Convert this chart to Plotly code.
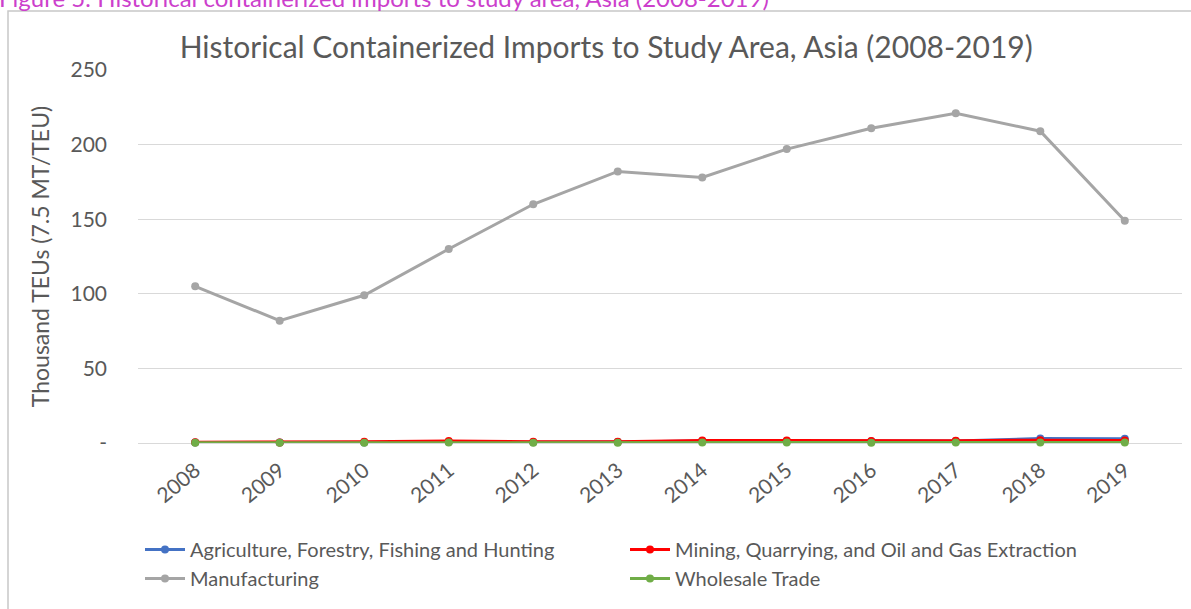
import plotly.graph_objects as go

years = ["2008", "2009", "2010", "2011", "2012", "2013",
         "2014", "2015", "2016", "2017", "2018", "2019"]

agriculture = [0.3, 0.3, 0.4, 0.6, 0.5, 0.6, 1.3, 1.4, 1.2, 1.3, 3.0, 2.8]
mining = [0.5, 0.4, 0.8, 1.3, 0.8, 0.9, 1.6, 1.7, 1.4, 1.5, 1.9, 1.7]
manufacturing = [105, 82, 99, 130, 160, 182, 178, 197, 211, 221, 209, 149]
wholesale = [0.2, 0.2, 0.2, 0.3, 0.2, 0.2, 0.3, 0.3, 0.2, 0.3, 0.4, 0.3]

y_ticks = [0, 50, 100, 150, 200, 250]
y_tick_text = ["-", "50", "100", "150", "200", "250"]

FONT = "Lato"
TEXT = "#595959"

W, H = 1191, 609
ML, MR, MT, MB = 138, 9, 70, 166
PW, PH = W - ML - MR, H - MT - MB


def px_x(p):
    return (p - ML) / PW


def px_y(p):
    return (H - MB - p) / PH


# (name, values, colour, legend column)
series = [
    ("Agriculture, Forestry, Fishing and Hunting", agriculture, "#4472C4", "legend"),
    ("Mining, Quarrying, and Oil and Gas Extraction", mining, "#FF0000", "legend2"),
    ("Manufacturing", manufacturing, "#A5A5A5", "legend"),
    ("Wholesale Trade", wholesale, "#70AD47", "legend2"),
]

fig = go.Figure()
for name, vals, color, leg in series:
    fig.add_trace(go.Scatter(
        x=years, y=vals, name=name, mode="lines+markers",
        line=dict(color=color, width=3),
        marker=dict(color=color, size=8),
        cliponaxis=False, legend=leg, legendgroup=name,
    ))

legend_style = dict(
    orientation="v", yanchor="top", xanchor="left",
    font=dict(size=20, color=TEXT, family=FONT),
    tracegroupgap=0, itemwidth=40, bgcolor="rgba(0,0,0,0)",
)

fig.update_layout(
    width=W, height=H,
    margin=dict(l=ML, r=MR, t=MT, b=MB, autoexpand=False),
    paper_bgcolor="white", plot_bgcolor="white",
    font=dict(family=FONT, color=TEXT),
    title=dict(
        text="Historical Containerized Imports to Study Area, Asia (2008-2019)",
        x=0.509, xanchor="center", y=1 - 47 / H, yanchor="middle",
        font=dict(size=30, color=TEXT, family=FONT),
    ),
    xaxis=dict(
        type="category", showgrid=False, showline=False,
        ticks="outside", ticklen=6, tickcolor="rgba(0,0,0,0)",
        tickangle=-40, tickfont=dict(size=21, color=TEXT),
    ),
    yaxis=dict(
        range=[0, 250], tickvals=y_ticks, ticktext=y_tick_text,
        showgrid=True, gridcolor="#D9D9D9", gridwidth=1,
        zeroline=True, zerolinecolor="#D9D9D9", zerolinewidth=1,
        showline=False, ticks="", ticklabelstandoff=30,
        tickfont=dict(size=21, color=TEXT),
        title=dict(text="Thousand TEUs (7.5 MT/TEU)",
                   font=dict(size=23, color=TEXT), standoff=14),
    ),
    legend=dict(x=px_x(140), y=px_y(530), **legend_style),
    legend2=dict(x=px_x(625), y=px_y(530), **legend_style),
    showlegend=True,
)

# chart frame
fig.add_shape(
    type="rect", xref="paper", yref="paper",
    x0=px_x(8), x1=px_x(1250), y0=px_y(660), y1=px_y(11),
    line=dict(color="#C8C8C8", width=1.5), fillcolor="rgba(0,0,0,0)",
    layer="below",
)

# figure caption above the chart frame
fig.add_annotation(
    text="Figure 5: Historical containerized imports to study area, Asia (2008-2019)",
    xref="paper", yref="paper", x=px_x(-3), y=px_y(14),
    xanchor="left", yanchor="bottom", showarrow=False,
    font=dict(size=24, color="#CC3FCC", family=FONT),
)

fig.write_html("out.html")
